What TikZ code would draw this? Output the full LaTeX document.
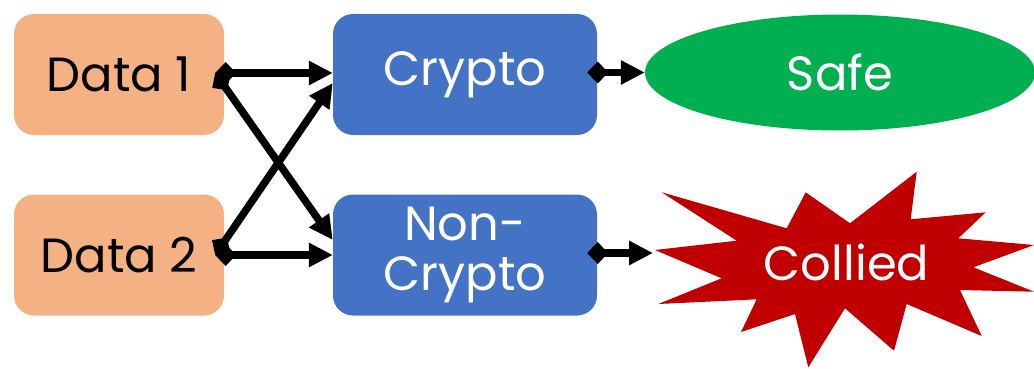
\documentclass[tikz,border=0pt]{standalone}
\usepackage{fontspec}
\setmainfont{Poppins}
\usetikzlibrary{arrows.meta,calc,shapes.geometric}
\definecolor{dataorange}{HTML}{F4B183}
\definecolor{procblue}{HTML}{4472C4}
\definecolor{safegreen}{HTML}{00B050}
\definecolor{boomred}{HTML}{C00000}
\tikzset{
  databox/.style={rounded corners=20pt, fill=dataorange, minimum width=210pt,
    minimum height=121pt, inner sep=0pt, text=black},
  procbox/.style={rounded corners=20pt, fill=procblue, minimum width=264pt,
    minimum height=121pt, inner sep=0pt, text=white, align=center},
  flow/.style={line width=7.5pt,
    {Diamond[length=21pt 0 0,width=22pt 0 0]}-{Triangle[length=24pt 0 0,width=23pt 0 0]}},
  lbl/.style={font=\fontsize{48}{50}\selectfont}
}
\begin{document}
\begin{tikzpicture}[x=1pt,y=-1pt]
  \useasboundingbox (0,0) rectangle (1034,369);

  % input data
  \node[databox,lbl] (d1) at (119,74.5) {Data 1};
  \node[databox,lbl] (d2) at (119,255) {Data 2};

  % processing
  \node[procbox,lbl] (cr) at (465,74.5) {Crypto};
  \node[procbox,lbl] (nc) at (465,255) {Non-\\Crypto};

  % outcomes
  \node[ellipse, fill=safegreen, minimum width=390pt, minimum height=116pt,
        inner sep=0pt, text=white, lbl] (safe) at (840,72.5) {Safe};

  \fill[boomred] (655,250) -- (736.7,240.7) -- (661.7,192.3) -- (786.7,228.3)
    -- (805.7,192.3) -- (850,223.3) -- (916.7,171.7) -- (910.7,219.3)
    -- (985.7,212.3) -- (958.3,238.3) -- (1034,245) -- (973.3,267.3)
    -- (1034,291.7) -- (960,290) -- (981.7,336) -- (906.7,304)
    -- (894,350.7) -- (845,308.3) -- (808.3,367.3) -- (795,314)
    -- (741,332) -- (756.7,299.3) -- (658.3,304) -- (721.7,278.3) -- cycle;
  \node[text=white, lbl, inner sep=0pt] (boom) at (846.5,262) {Collied};
  \coordinate (boomtip) at (653,253);

  % connectors: each tail diamond sits centred on the box edge
  \coordinate (d1out) at ($(d1.east)+(-9,-1.5)$);
  \coordinate (d2out) at ($(d2.east)+(-9,0)$);
  \coordinate (crout) at ($(cr.east)+(-10,-2)$);
  \coordinate (ncout) at ($(nc.east)+(-10,-2)$);
  \coordinate (crin) at ($(cr.west)+(0,-1.5)$);
  \coordinate (crlow) at ($(cr.west)+(0,8.5)$);
  \coordinate (nchigh) at ($(nc.west)+(0,-15)$);
  \draw[flow] (d1out) -- (crin);
  \draw[flow] (d1out) -- (nchigh);
  \draw[flow] (d2out) -- (crlow);
  \draw[flow] (d2out) -- (nc.west);
  \draw[flow] (crout) -- (safe.west);
  \draw[flow] (ncout) -- (boomtip);
\end{tikzpicture}
\end{document}
